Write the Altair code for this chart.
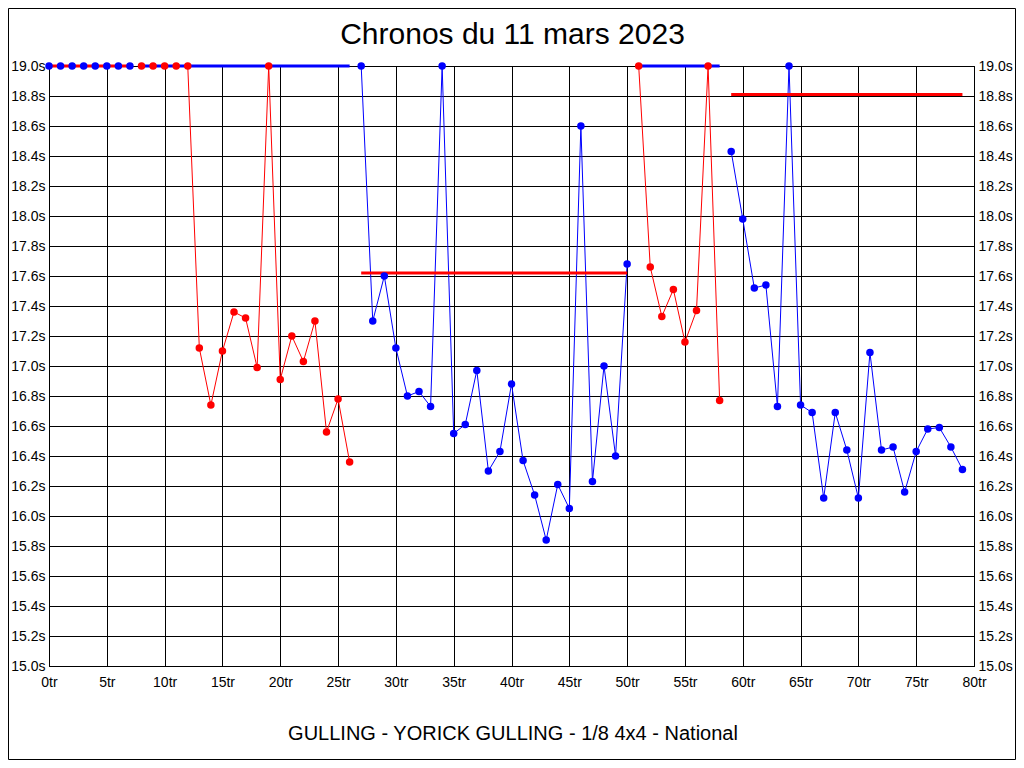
import altair as alt
import pandas as pd

TITLE = "Chronos du 11 mars 2023"
CAPTION = "GULLING - YORICK GULLING - 1/8 4x4 - National"
FONT = "Liberation Sans"

# Lap numbers and lap times (s) for each run segment
laps_s0 = [0, 1, 2, 3, 4, 5, 6, 7]
times_s0 = [19.0, 19.0, 19.0, 19.0, 19.0, 19.0, 19.0, 19.0]

laps_s1 = [8, 9, 10, 11, 12, 13, 14, 15, 16, 17, 18, 19, 20, 21, 22, 23, 24, 25, 26]
times_s1 = [19.0, 19.0, 19.0, 19.0, 19.0, 17.12, 16.74, 17.10, 17.36, 17.32, 16.99,
            19.0, 16.91, 17.20, 17.03, 17.30, 16.56, 16.78, 16.36]

laps_s2 = [27, 28, 29, 30, 31, 32, 33, 34, 35, 36, 37, 38, 39, 40, 41, 42, 43, 44,
           45, 46, 47, 48, 49, 50]
times_s2 = [19.0, 17.30, 17.60, 17.12, 16.80, 16.83, 16.73, 19.0, 16.55, 16.61, 16.97,
            16.30, 16.43, 16.88, 16.37, 16.14, 15.84, 16.21, 16.05, 18.60, 16.23, 17.00,
            16.40, 17.68]

laps_s3 = [51, 52, 53, 54, 55, 56, 57, 58]
times_s3 = [19.0, 17.66, 17.33, 17.51, 17.16, 17.37, 19.0, 16.77]

laps_s4 = [59, 60, 61, 62, 63, 64, 65, 66, 67, 68, 69, 70, 71, 72, 73, 74, 75, 76, 77,
           78, 79]
times_s4 = [18.43, 17.98, 17.52, 17.54, 16.73, 19.0, 16.74, 16.69, 16.12, 16.69, 16.44,
            16.12, 17.09, 16.44, 16.46, 16.16, 16.43, 16.58, 16.59, 16.46, 16.31]

seg_colors = ["blue", "red", "blue", "red", "blue"]

# Average lines per segment
avg_start = [0, 8, 27, 51, 59]
avg_end = [7, 26, 50, 58, 79]
avg_value = [19.0, 19.0, 17.62, 19.0, 18.81]
avg_colors = ["red", "blue", "red", "blue", "red"]

x_ticks = [0, 5, 10, 15, 20, 25, 30, 35, 40, 45, 50, 55, 60, 65, 70, 75, 80]
y_ticks = [15.0, 15.2, 15.4, 15.6, 15.8, 16.0, 16.2, 16.4, 16.6, 16.8, 17.0,
           17.2, 17.4, 17.6, 17.8, 18.0, 18.2, 18.4, 18.6, 18.8, 19.0]

seg_laps = [laps_s0, laps_s1, laps_s2, laps_s3, laps_s4]
seg_times = [times_s0, times_s1, times_s2, times_s3, times_s4]
rows = []
for i, (ls, ts) in enumerate(zip(seg_laps, seg_times)):
    for l, t in zip(ls, ts):
        rows.append({"lap": l, "time": t, "seg": i, "serie": seg_colors[i]})
df = pd.DataFrame(rows)
avg_df = pd.DataFrame({"start": avg_start, "end": avg_end, "time": avg_value,
                       "serie": avg_colors})

W, H = 925, 600
PAD = {"left": 41, "top": 58, "right": 42, "bottom": 94}

color = alt.Color("serie:N", scale=alt.Scale(domain=["red", "blue"],
                                             range=["#ff0000", "#0000ff"]), legend=None)
xscale = alt.Scale(domain=[0, 80], nice=False)
yscale = alt.Scale(domain=[15, 19], nice=False, zero=False)

x_axis = alt.Axis(values=x_ticks, labelExpr="datum.value + 'tr'", grid=True,
                  gridColor="black", gridOpacity=1, gridWidth=1, ticks=False,
                  domainColor="black", labelFont=FONT, labelFontSize=14,
                  labelColor="black", labelPadding=9, title=None, labelFlush=False)
y_left = alt.Axis(orient="left", values=y_ticks,
                  labelExpr="format(datum.value, '.1f') + 's'", grid=True,
                  gridColor="black", gridOpacity=1, gridWidth=1, ticks=False,
                  domainColor="black", labelFont=FONT, labelFontSize=14,
                  labelColor="black", labelPadding=4, title=None, labelFlush=False)
y_right = alt.Axis(orient="right", values=y_ticks,
                   labelExpr="format(datum.value, '.1f') + 's'", grid=False,
                   ticks=False, domainColor="black", labelFont=FONT, labelFontSize=14,
                   labelColor="black", labelPadding=4, title=None, labelFlush=False)

X = alt.X("lap:Q", scale=xscale, axis=x_axis)

lines = alt.Chart(df).mark_line(strokeWidth=1).encode(
    x=X,
    y=alt.Y("time:Q", scale=yscale, axis=y_left),
    color=color,
    detail="seg:N",
    order="lap:Q",
)

rules = alt.Chart(avg_df).mark_rule(strokeWidth=3).encode(
    x=alt.X("start:Q", scale=xscale, axis=x_axis),
    x2="end:Q",
    y=alt.Y("time:Q", scale=yscale, axis=None),
    color=color,
)

points = alt.Chart(df).mark_circle(size=56, opacity=1).encode(
    x=X,
    y=alt.Y("time:Q", scale=yscale, axis=y_right),
    color=color,
)

title = alt.Chart(pd.DataFrame({"t": [TITLE]})).mark_text(
    font=FONT, fontSize=30, align="center", baseline="alphabetic", color="black"
).encode(text="t:N", x=alt.value(W / 2 + 1), y=alt.value(-22))

caption = alt.Chart(pd.DataFrame({"t": [CAPTION]})).mark_text(
    font=FONT, fontSize=20, align="center", baseline="alphabetic", color="black"
).encode(text="t:N", x=alt.value(W / 2 + 1.5), y=alt.value(674))

border = alt.Chart(pd.DataFrame({"a": [0]})).mark_rect(
    fillOpacity=0, stroke="black", strokeWidth=1
).encode(
    x=alt.value(-PAD["left"] + 0.5), x2=alt.value(W + PAD["right"] - 0.5),
    y=alt.value(-PAD["top"] + 0.5), y2=alt.value(H + PAD["bottom"] - 0.5),
)

chart = alt.layer(lines, rules, points, title, caption, border).resolve_scale(
    y="shared"
).resolve_axis(y="independent").properties(
    width=W, height=H, padding=PAD,
    autosize=alt.AutoSizeParams(type="none"),
    background="white",
).configure_view(stroke="black", strokeWidth=1)

chart.save("out.html", embed_options={"renderer": "svg", "actions": False})
